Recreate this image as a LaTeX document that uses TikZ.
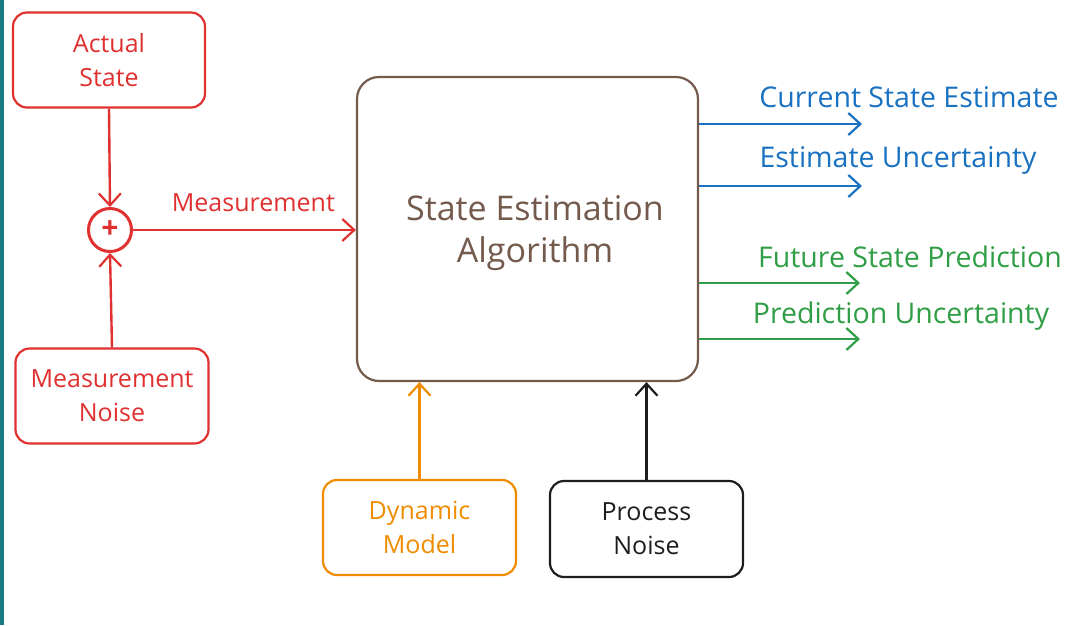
\documentclass[tikz,border=0pt]{standalone}
\usepackage{fontspec}
\setmainfont{Open Sans}
\usetikzlibrary{arrows.meta}
\definecolor{cred}{HTML}{E03131}
\definecolor{cblue}{HTML}{1971C2}
\definecolor{cgreen}{HTML}{2F9E44}
\definecolor{corange}{HTML}{F08C00}
\definecolor{cbrown}{HTML}{735A4C}
\definecolor{cblack}{HTML}{1E1E1E}
\definecolor{cteal}{HTML}{1B7A80}
\tikzset{
  box/.style={draw, line width=2.2pt, rounded corners=14pt, align=center, font=\fontsize{25}{34}\selectfont, inner sep=0pt},
  conn/.style={line width=2.4pt, -{Straight Barb[length=12pt,width=22pt,line width=2.2pt]}},
  lbl/.style={font=\fontsize{28.5}{30}\selectfont, anchor=center}
}
\begin{document}
\begin{tikzpicture}[x=1pt,y=-1pt]
\useasboundingbox[fill=white] (0,0) rectangle (1080,625);
\fill[cteal] (0,0) rectangle (4,625);
% left red part
\node[box, cred, minimum width=192pt, minimum height=95pt] (actual) at (109,60) {Actual\\State};
\node[box, cred, minimum width=193pt, minimum height=95pt] (mnoise) at (112,396) {Measurement\\Noise};
\node[circle, draw=cred, line width=3pt, minimum size=43pt, inner sep=0pt, text=cred, font=\fontsize{30}{30}\selectfont\bfseries] (sum) at (110,230) {+};
% main box
\node[box, cbrown, rounded corners=22pt, minimum width=341pt, minimum height=304pt] (alg) at (527.5,229) {};
\node[text=cbrown, align=center, font=\fontsize{34}{42}\selectfont] (algtext) at (535,233) {State Estimation\\Algorithm};
% bottom boxes
\node[box, corange, minimum width=193pt, minimum height=95pt] (dyn) at (419.5,527.5) {Dynamic\\Model};
\node[box, cblack, minimum width=193pt, minimum height=96pt] (pnoise) at (646.5,529) {Process\\Noise};
% output coordinates
\coordinate (o1) at (862,124);
\coordinate (o2) at (862,186);
\coordinate (o3) at (860,283);
\coordinate (o4) at (860,339);
% connectors
\draw[conn, cred] (actual.south) -- (sum.north);
\draw[conn, cred] (mnoise.north) -- (sum.south);
\draw[conn, cred] (sum.east) -- (alg.west |- sum.east) node[pos=0.54, above=14pt, text=cred, font=\fontsize{25}{26}\selectfont] (mlabel) {Measurement};
\draw[conn, cblue] (alg.east |- o1) -- (o1);
\draw[conn, cblue] (alg.east |- o2) -- (o2);
\draw[conn, cgreen] (alg.east |- o3) -- (o3);
\draw[conn, cgreen] (alg.east |- o4) -- (o4);
\draw[conn, corange] (dyn.north) -- (dyn.north |- alg.south);
\draw[conn, cblack] (pnoise.north) -- (pnoise.north |- alg.south);
% output labels
\node[lbl, text=cblue] (l1) at (909,97) {Current State Estimate};
\node[lbl, text=cblue] (l2) at (898,160) {Estimate Uncertainty};
\node[lbl, text=cgreen] (l3) at (910,257) {Future State Prediction};
\node[lbl, text=cgreen] (l4) at (901,316) {Prediction Uncertainty};
\end{tikzpicture}
\end{document}
